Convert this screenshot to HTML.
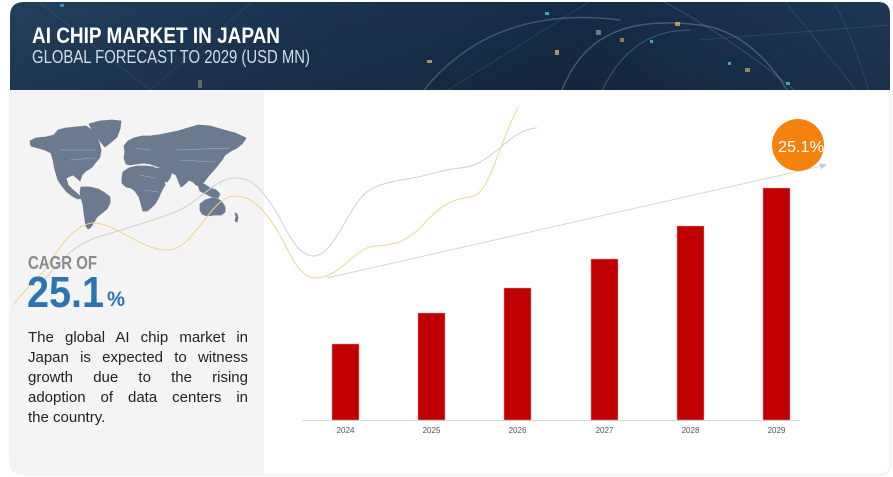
<!DOCTYPE html>
<html>
<head>
<meta charset="utf-8">
<style>
  html,body{margin:0;padding:0;background:#ffffff;}
  #wrap{position:relative;width:893px;height:477px;overflow:hidden;background:#ffffff;}
  svg{position:absolute;left:0;top:0;}
  .para{position:absolute;left:28px;top:328px;width:220px;font-family:"Liberation Sans",Arial,sans-serif;font-size:15px;line-height:20px;color:#222;}
  .para div{text-align:justify;text-align-last:justify;white-space:nowrap;}
  .para div.last{text-align-last:left;}
</style>
</head>
<body>
<div id="wrap">
<svg width="893" height="477" viewBox="0 0 893 477" xmlns="http://www.w3.org/2000/svg">
  <defs>
    <linearGradient id="hdr" x1="0" y1="0" x2="1" y2="0">
      <stop offset="0" stop-color="#223f5c"/>
      <stop offset="0.35" stop-color="#1a3350"/>
      <stop offset="0.65" stop-color="#152b45"/>
      <stop offset="1" stop-color="#1d3755"/>
    </linearGradient>
    <linearGradient id="hdrv" x1="0" y1="0" x2="0" y2="1">
      <stop offset="0" stop-color="#000" stop-opacity="0"/>
      <stop offset="1" stop-color="#000" stop-opacity="0.12"/>
    </linearGradient>
    <clipPath id="hclip">
      <path d="M10,90 L10,16 Q10,2 24,2 L878,2 Q890,2 890,14 L890,90 Z"/>
    </clipPath>
    <marker id="arr" markerWidth="8" markerHeight="8" refX="6" refY="3" orient="auto">
      <path d="M0,0 L7,3 L0,6 Z" fill="#c8c8c8"/>
    </marker>
  </defs>

  <!-- card -->
  <path d="M10,90 L10,460 Q10,475 25,475 L877,475 Q891,475 891,461 L891,90 Z" fill="#ffffff" stroke="#ececec" stroke-width="1"/>
  <!-- left panel -->
  <path d="M10,90 L10,460 Q10,475 25,475 L264,475 L264,90 Z" fill="#f4f4f5"/>

  <!-- header -->
  <g clip-path="url(#hclip)">
    <rect x="10" y="2" width="880" height="88" fill="url(#hdr)"/>
    <rect x="10" y="2" width="880" height="88" fill="url(#hdrv)"/>
    <g fill="none" stroke-linecap="round">
      <path d="M30,-5 L150,90" stroke="#5a7898" stroke-opacity="0.25" stroke-width="1"/>
      <path d="M150,90 L260,-5" stroke="#5a7898" stroke-opacity="0.2" stroke-width="1"/>
      <path d="M420,95 C470,30 540,10 620,20" stroke="#8ea8c0" stroke-opacity="0.35" stroke-width="1.5"/>
      <path d="M560,95 C580,40 620,15 700,25 C740,30 770,60 790,95" stroke="#9bb3c8" stroke-opacity="0.35" stroke-width="1.5"/>
      <path d="M600,95 C620,50 650,30 690,30" stroke="#b9c7d4" stroke-opacity="0.3" stroke-width="1"/>
      <path d="M660,0 C700,20 760,60 800,95" stroke="#7f9ab5" stroke-opacity="0.3" stroke-width="1"/>
      <path d="M440,95 L600,-5" stroke="#7a95b0" stroke-opacity="0.2" stroke-width="1"/>
      <path d="M780,-5 L860,95" stroke="#7a95b0" stroke-opacity="0.2" stroke-width="1"/>
      <path d="M700,40 C760,35 830,30 890,25" stroke="#7a95b0" stroke-opacity="0.2" stroke-width="1"/>
      <path d="M830,-5 C850,30 860,60 870,95" stroke="#7a95b0" stroke-opacity="0.2" stroke-width="1"/>
    </g>
    <g>
      <rect x="427" y="60" width="5" height="3" fill="#e8c060" opacity="0.7"/>
      <rect x="555" y="50" width="4" height="5" fill="#e8c060" opacity="0.7"/>
      <rect x="675" y="22" width="5" height="4" fill="#e8c060" opacity="0.7"/>
      <rect x="620" y="38" width="4" height="4" fill="#e0b050" opacity="0.6"/>
      <rect x="745" y="68" width="5" height="4" fill="#e8c060" opacity="0.6"/>
      <rect x="545" y="12" width="4" height="3" fill="#45c6e8" opacity="0.8"/>
      <rect x="650" y="40" width="3" height="3" fill="#45c6e8" opacity="0.8"/>
      <rect x="728" y="62" width="3" height="3" fill="#45c6e8" opacity="0.8"/>
      <rect x="786" y="82" width="4" height="3" fill="#45c6e8" opacity="0.8"/>
      <rect x="60" y="4" width="4" height="3" fill="#45c6e8" opacity="0.6"/>
      <rect x="596" y="30" width="5" height="5" fill="#c9c9d0" opacity="0.5"/>
      <rect x="198" y="80" width="4" height="8" fill="#c9b9a0" opacity="0.4"/>
    </g>
  </g>
  <text x="32" y="43" font-family="'Liberation Sans Narrow','Liberation Sans',Arial,sans-serif" font-weight="bold" font-size="22" fill="#ffffff" textLength="248" lengthAdjust="spacingAndGlyphs">AI CHIP MARKET IN JAPAN</text>
  <text x="32" y="63" font-family="'Liberation Sans Narrow','Liberation Sans',Arial,sans-serif" font-size="18" fill="#d3dce6" textLength="278" lengthAdjust="spacingAndGlyphs">GLOBAL FORECAST TO 2029 (USD MN)</text>

  <!-- world map -->
  <g fill="#6b7a8f" stroke="#6b7a8f" stroke-width="0.8" stroke-linejoin="round">
    <!-- North America -->
    <polygon points="30,141 36,138 46,137 54,135 58,130 66,128 76,127 86,126 92,130 96,136 99,142 101,150 100,157 96,162 92,167 86,171 82,175 80,181 78,179 73,175 66,178 68,185 73,190 79,195 82,198 78,199 72,196 67,192 62,186 58,180 55,170 53,160 51,153 45,150 38,148 31,146"/>
    <!-- Greenland -->
    <polygon points="89,124 100,121 112,120 121,121 120,129 117,137 110,143 105,147 100,141 94,133"/>
    <!-- South America -->
    <polygon points="81,187 90,187 98,189 105,193 110,197 110,203 107,209 102,213 97,217 94,222 91,227 88,229 86,226 85,220 84,213 83,205 81,198 80,192"/>
    <!-- Eurasia -->
    <polygon points="124,146 128,141 134,138 142,136 150,136 158,135 168,133 178,131 188,128 198,125 210,126 224,130 235,133 246,138 242,144 237,148 231,151 225,155 222,160 218,165 214,170 211,173 207,178 204,182 200,186 196,185 193,182 189,180 185,184 181,187 178,180 176,175 171,172 166,172 161,168 156,166 150,164 143,163 136,164 130,165 126,164 124,158 125,152"/>
    <!-- Africa -->
    <polygon points="123,172 129,168 137,166 146,166 154,167 158,172 164,180 165,185 162,190 159,197 155,204 151,208 147,211 143,211 141,204 139,197 135,191 131,188 126,187 122,183 122,177"/>
    <!-- Arabia -->
    <polygon points="155,168 165,169 172,172 170,178 167,182 162,181 158,178"/>
    <!-- SE Asia -->
    <polygon points="198,185 204,184 210,188 216,190 220,194 218,198 212,197 206,194 200,191"/>
    <!-- Australia -->
    <polygon points="200,204 205,200 212,198 218,199 222,202 225,207 225,212 221,215 214,215 207,216 202,214 200,210"/>
    <polygon points="235,213 237,214 238,218 237,222 235,221 236,217"/>
    <polygon points="218,148 221,146 222,152 220,157 218,155"/>
  </g>
  <g fill="none" stroke="#f4f4f5" stroke-width="0.4" opacity="0.6">
    <path d="M60,150 L96,150 M70,160 L95,158 M135,148 L150,150 M140,175 L155,178 M145,190 L158,192 M175,150 L230,148 M180,160 L215,162"/>
  </g>

  <!-- decorative curves -->
  <path d="M43,282 C60,260 75,245 95,238 C120,230 150,222 175,212 C200,202 215,178 235,178 C255,178 262,192 272,205 C285,225 295,255 313,256 C335,257 350,200 370,190 C380,183 400,180 413,178 C430,175 440,170 460,168 C475,167 485,160 500,148 C512,137 525,128 537,128" fill="none" stroke="#cfcfd4" stroke-width="1"/>
  <path d="M13,305 C25,290 35,280 45,270 C60,245 75,225 92,223 C115,222 140,250 167,250 C195,250 210,196 235,196 C255,196 268,215 280,235 C292,258 300,278 316,278 C340,278 355,247 375,246 C395,245 405,242 420,228 C435,212 445,200 470,197 C485,195 492,170 500,150 C507,132 512,118 518,108" fill="none" stroke="#f1d58e" stroke-width="1"/>

  <!-- CAGR -->
  <text x="28" y="269" font-family="'Liberation Sans Narrow','Liberation Sans',Arial,sans-serif" font-weight="bold" font-size="18" fill="#8a8a8a" textLength="69" lengthAdjust="spacingAndGlyphs">CAGR OF</text>
  <text x="27" y="307" font-family="'Liberation Sans',Arial,sans-serif" font-weight="bold" font-size="44" fill="#2e74b5" textLength="77" lengthAdjust="spacingAndGlyphs">25.1</text>
  <text x="107" y="306" font-family="'Liberation Sans',Arial,sans-serif" font-weight="bold" font-size="21" fill="#2e74b5" textLength="18" lengthAdjust="spacingAndGlyphs">%</text>

  <!-- trend line -->
  <line x1="327" y1="278" x2="826" y2="165" stroke="#d6d6d6" stroke-width="1" marker-end="url(#arr)"/>

  <!-- axis -->
  <line x1="302" y1="420.5" x2="800" y2="420.5" stroke="#d9d9d9" stroke-width="1"/>

  <!-- bars -->
  <g fill="#c00000" stroke="#e6a0a0" stroke-width="0.5">
    <rect x="332" y="344" width="27" height="76"/>
    <rect x="418" y="313" width="27" height="107"/>
    <rect x="504" y="288" width="27" height="132"/>
    <rect x="591" y="259" width="27" height="161"/>
    <rect x="677" y="226" width="27" height="194"/>
    <rect x="763" y="188" width="27" height="232"/>
  </g>
  <g font-family="'Liberation Sans',Arial,sans-serif" font-size="8" fill="#555" text-anchor="middle">
    <text x="345.5" y="433">2024</text>
    <text x="431.5" y="433">2025</text>
    <text x="517.5" y="433">2026</text>
    <text x="604.5" y="433">2027</text>
    <text x="690.5" y="433">2028</text>
    <text x="776.5" y="433">2029</text>
  </g>

  <!-- CAGR bubble -->
  <circle cx="798" cy="145" r="26" fill="#f5820f"/>
  <text x="778" y="152" font-family="'Liberation Sans',Arial,sans-serif" font-size="16" fill="#ffffff" textLength="46" lengthAdjust="spacingAndGlyphs">25.1%</text>
</svg>
<div class="para">
  <div>The global AI chip market in</div>
  <div>Japan is expected to witness</div>
  <div>growth due to the rising</div>
  <div>adoption of data centers in</div>
  <div class="last">the country.</div>
</div>
</div>
</body>
</html>
